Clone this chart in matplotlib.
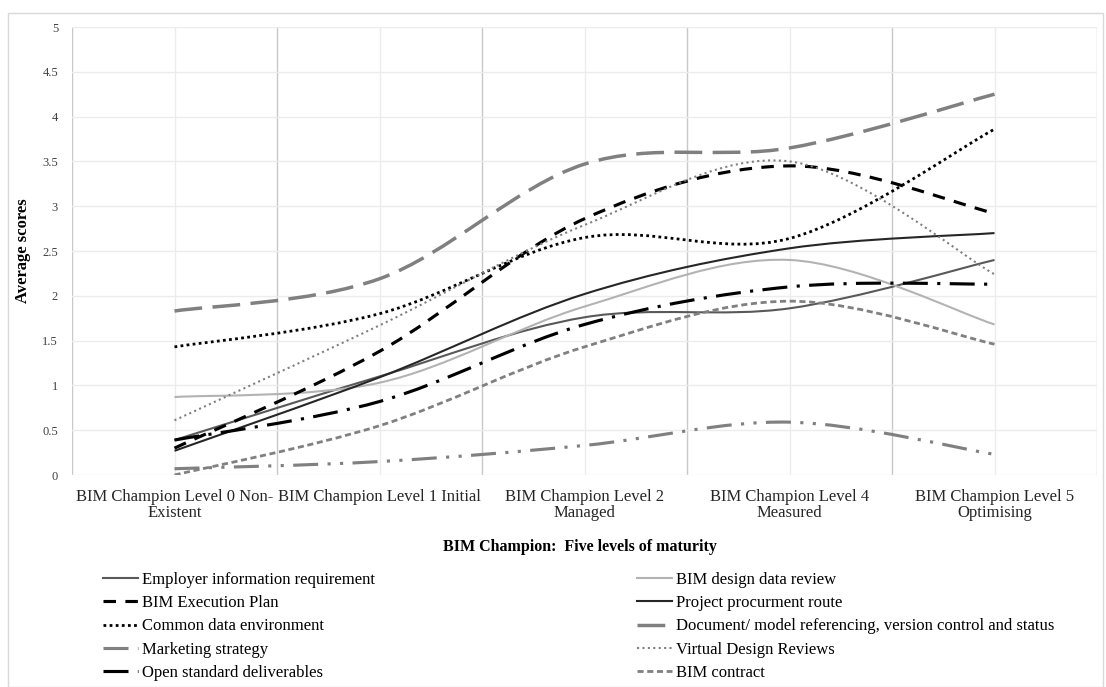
import matplotlib
matplotlib.use("Agg")
import matplotlib.pyplot as plt
from matplotlib.path import Path
from matplotlib.patches import PathPatch, Rectangle
from matplotlib.lines import Line2D

plt.rcParams['font.family'] = ['Liberation Serif', 'DejaVu Serif']

levels = ["BIM Champion Level 0 Non-\nExistent",
          "BIM Champion Level 1 Initial",
          "BIM Champion Level 2\nManaged",
          "BIM Champion Level 4\nMeasured",
          "BIM Champion Level 5\nOptimising"]

employer = [0.39, 1.10, 1.76, 1.86, 2.40]
design_review = [0.87, 1.03, 1.88, 2.40, 1.68]
exec_plan = [0.30, 1.38, 2.86, 3.45, 2.92]
procurement = [0.27, 1.09, 2.02, 2.53, 2.70]
cde = [1.43, 1.80, 2.65, 2.64, 3.86]
document = [1.83, 2.19, 3.47, 3.65, 4.25]
marketing = [0.07, 0.15, 0.33, 0.59, 0.23]
virtual = [0.61, 1.67, 2.79, 3.50, 2.24]
open_std = [0.39, 0.82, 1.68, 2.10, 2.13]
contract = [0.00, 0.55, 1.43, 1.94, 1.46]

# name, values, colour, width, dash pattern (None = solid)
series = [
    ("Employer information requirement", employer, "#595959", 1.5, None),
    ("BIM design data review", design_review, "#b3b3b3", 1.5, None),
    ("BIM Execution Plan", exec_plan, "black", 2.25, (4, 3)),
    ("Project procurment route", procurement, "#262626", 1.5, None),
    ("Common data environment", cde, "black", 2.0, (1, 1.2)),
    ("Document/ model referencing, version control and status", document, "#808080", 2.5, (8, 3)),
    ("Marketing strategy", marketing, "#808080", 2.25, (8, 3, 1, 3, 1, 3)),
    ("Virtual Design Reviews", virtual, "#808080", 1.5, (1, 1.6)),
    ("Open standard deliverables", open_std, "black", 2.25, (8, 3, 1, 3)),
    ("BIM contract", contract, "#808080", 2.0, (2.2, 1.3)),
]


def smooth_path(xs, ys):
    # Excel-like smoothed line: cubic bezier through every point
    pts = list(zip(xs, ys))
    n = len(pts)
    verts = [pts[0]]
    codes = [Path.MOVETO]
    for i in range(n - 1):
        p0 = pts[i - 1] if i > 0 else pts[i]
        p1 = pts[i]
        p2 = pts[i + 1]
        p3 = pts[i + 2] if i + 2 < n else pts[i + 1]
        c1 = (p1[0] + (p2[0] - p0[0]) / 6, p1[1] + (p2[1] - p0[1]) / 6)
        c2 = (p2[0] - (p3[0] - p1[0]) / 6, p2[1] - (p3[1] - p1[1]) / 6)
        verts += [c1, c2, p2]
        codes += [Path.CURVE4] * 3
    return Path(verts, codes)


fig = plt.figure(figsize=(11.06, 6.87), dpi=100)
ax = fig.add_axes([72 / 1106, 1 - 475 / 687, 1025 / 1106, 448 / 687])

x = list(range(len(levels)))
handles = []
for name, vals, col, lw, dash in series:
    ls = '-' if dash is None else (0, dash)
    patch = PathPatch(smooth_path(x, vals), fill=False, edgecolor=col,
                      linewidth=lw, linestyle=ls, capstyle='butt', zorder=3)
    ax.add_patch(patch)
    handles.append(Line2D([], [], color=col, linewidth=lw, linestyle=ls,
                          dash_capstyle='butt', label=name))

ax.set_xlim(-0.5, 4.5)
ax.set_ylim(0, 5)
ax.set_yticks([0, 0.5, 1, 1.5, 2, 2.5, 3, 3.5, 4, 4.5, 5])
ax.set_yticklabels(["0", "0.5", "1", "1.5", "2", "2.5", "3", "3.5", "4", "4.5", "5"], fontsize=9)
ax.set_xticks([i - 0.5 for i in range(6)])
ax.set_xticks(x, minor=True)
ax.set_xticklabels([])
ax.set_xticklabels(levels, minor=True, fontsize=12, linespacing=1.0)
ax.tick_params(axis='both', which='both', length=0)
ax.tick_params(axis='x', which='minor', pad=10)
ax.tick_params(axis='y', pad=10, colors='#404040')
ax.tick_params(axis='x', which='minor', labelcolor='#262626')

ax.grid(axis='y', color='#ececec', linewidth=1)
ax.grid(axis='x', which='major', color='#c8c8c8', linewidth=1)
ax.grid(axis='x', which='minor', color='#ececec', linewidth=1)
ax.set_axisbelow(True)
for s in ax.spines.values():
    s.set_visible(False)

ax.set_ylabel("Average scores", fontsize=12, fontweight='bold')
ax.yaxis.set_label_coords(-0.04, 0.5)
ax.set_xlabel("BIM Champion:  Five levels of maturity", fontsize=11.5, fontweight='bold')
ax.xaxis.set_label_coords(0.4956, -0.161)
ax.xaxis.label.set_va('center')

left = [handles[i] for i in (0, 2, 4, 6, 8)]
right = [handles[i] for i in (1, 3, 5, 7, 9)]
leg_kw = dict(frameon=False, fontsize=12, handlelength=2.1, handletextpad=0.25,
              labelspacing=0.43, borderpad=0, borderaxespad=0, loc='upper left')
fig.legend(handles=left, bbox_to_anchor=(103 / 1106, 1 - 572 / 687), **leg_kw)
fig.legend(handles=right, bbox_to_anchor=(637 / 1106, 1 - 572 / 687), **leg_kw)

fig.patches.append(Rectangle((8 / 1106, 0), 1095 / 1106, 1 - 13 / 687,
                             transform=fig.transFigure, fill=False,
                             edgecolor='#d9d9d9', linewidth=1))

plt.savefig("out.png", dpi=100)
